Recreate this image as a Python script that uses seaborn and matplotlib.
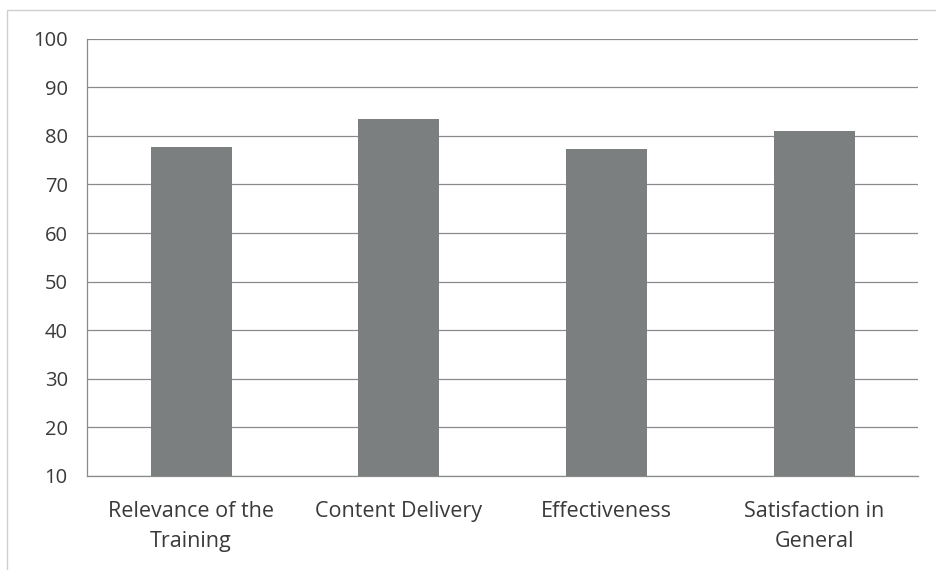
import matplotlib
matplotlib.use("Agg")
import matplotlib.pyplot as plt
import seaborn as sns
import pandas as pd
from matplotlib.patches import Rectangle

categories = ["Relevance of the\nTraining", "Content Delivery", "Effectiveness", "Satisfaction in\nGeneral"]
values = [77.7, 83.5, 77.3, 81.1]
yticks = [10, 20, 30, 40, 50, 60, 70, 80, 90, 100]

sns.set_style("white")
plt.rcParams["font.family"] = ["Open Sans", "DejaVu Sans"]

df = pd.DataFrame({"cat": categories, "val": values})

fig = plt.figure(figsize=(9.37, 5.7), dpi=100)
ax = fig.add_axes([0.093, 0.165, 0.887, 0.767])
sns.barplot(data=df, x="cat", y="val", color="#7b7f80", saturation=1, width=0.39,
            ax=ax, zorder=3, edgecolor="none", linewidth=0)

ax.set_ylim(10, 100)
ax.set_xlim(-0.5, 3.5)
ax.set_yticks(yticks)
ax.set_yticklabels([str(t) for t in yticks], fontsize=14.5, color="#3a3a3a")
ax.yaxis.grid(True, color="#8a8a8a", linewidth=0.9)
ax.set_axisbelow(True)
ax.set_xlabel("")
ax.set_ylabel("")
ax.tick_params(axis="x", which="major", length=0, labelsize=15.5, labelcolor="#3a3a3a", pad=18)
for lbl in ax.get_xticklabels():
    lbl.set_linespacing(1.55)
ax.set_xticks([-0.5, 0.5, 1.5, 2.5, 3.5], minor=True)
ax.tick_params(axis="x", which="minor", length=6, color="#8a8a8a", width=0.9)
ax.tick_params(axis="y", length=6, color="#8a8a8a", width=0.9, direction="out", pad=8)
for s in ["top", "right"]:
    ax.spines[s].set_visible(False)
for s in ["left", "bottom"]:
    ax.spines[s].set_color("#8a8a8a")
    ax.spines[s].set_linewidth(0.9)

fig.patches.append(Rectangle((0.008, -0.05), 1.2, 1.032, transform=fig.transFigure,
                             fill=False, edgecolor="#cfcfcf", linewidth=1.0))

fig.savefig("out.png", dpi=100)
